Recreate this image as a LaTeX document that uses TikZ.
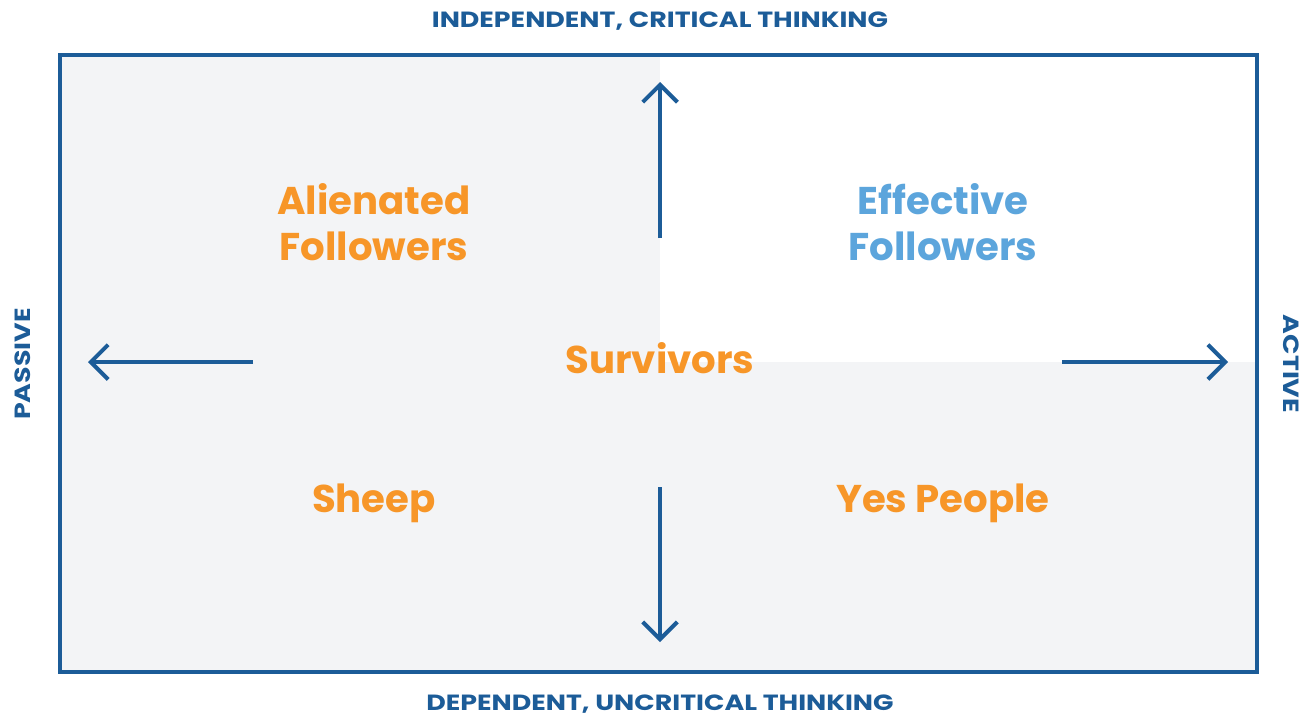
\documentclass[tikz,border=0pt]{standalone}
\usepackage{fontspec}
\setmainfont{Poppins}
\newfontfamily\axisfont[FakeStretch=1.22]{Poppins}
\usetikzlibrary{arrows.meta}

\definecolor{frameblue}{RGB}{28,92,152}
\definecolor{labelorange}{RGB}{247,150,40}
\definecolor{labelblue}{RGB}{92,165,220}
\definecolor{panelgray}{RGB}{243,244,246}

\tikzset{
    axislabel/.style = {text=frameblue, font=\axisfont\bfseries\fontsize{16.5}{19}\selectfont},
    quadlabel/.style = {text=labelorange, font=\bfseries\fontsize{29}{34}\selectfont, align=center},
    axisarrow/.style = {draw=frameblue, line width=3pt, -{Straight Barb[length=13pt, width=26pt, line width=3pt]}}
}

\begin{document}
\begin{tikzpicture}[x=0.75pt, y=-0.75pt]
    \useasboundingbox (0,0) rectangle (1307,718);

    \fill[panelgray] (60,55) rectangle (1257,672);
    \fill[white] (660,55) rectangle (1257,362);
    \draw[frameblue, line width=3pt] (60,55) rectangle (1257,672);

    % axis labels
    \node[axislabel] (indep) at (660,21) {INDEPENDENT, CRITICAL THINKING};
    \node[axislabel] (dep) at (660,704) {DEPENDENT, UNCRITICAL THINKING};
    \node[axislabel, rotate=90] (passive) at (23,364) {PASSIVE};
    \node[axislabel, rotate=-90] (active) at (1291,364) {ACTIVE};

    % quadrants
    \node[quadlabel] (alien) at (374,222) {Alienated\\Followers};
    \node[quadlabel, text=labelblue] (effect) at (943,222) {Effective\\Followers};
    \node[quadlabel] (surv) at (660,358) {Survivors};
    \node[quadlabel] (sheep) at (374,503) {Sheep};
    \node[quadlabel] (yes) at (943,503) {Yes People};

    % arrows
    \coordinate (upend) at (660,82);
    \coordinate (downend) at (660,642);
    \coordinate (leftend) at (88,362);
    \coordinate (rightend) at (1228,362);
    \draw[axisarrow] (660,238) -- (upend);
    \draw[axisarrow] (660,487) -- (downend);
    \draw[axisarrow] (253,362) -- (leftend);
    \draw[axisarrow] (1062,362) -- (rightend);
\end{tikzpicture}
\end{document}
